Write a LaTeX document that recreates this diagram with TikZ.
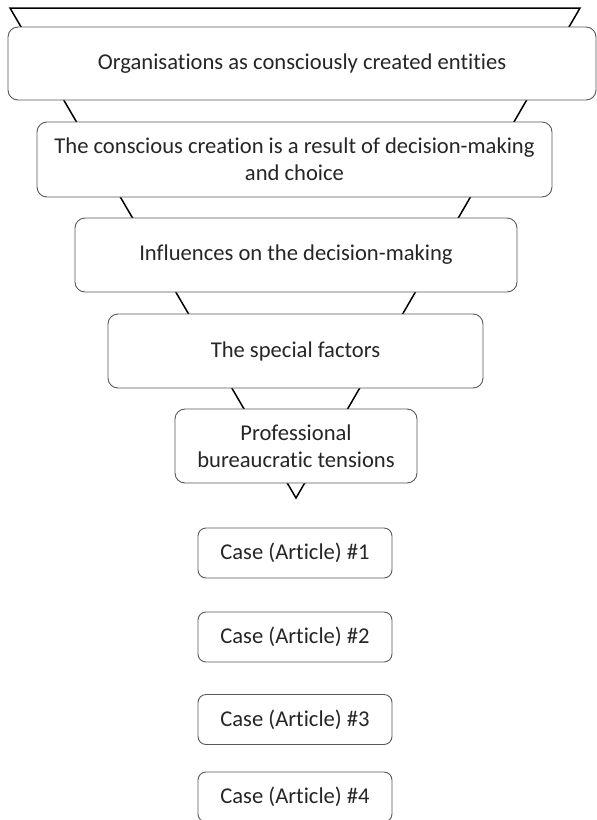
\documentclass[tikz,border=0pt]{standalone}
\usepackage{fontspec}
\setmainfont{Carlito}[Ligatures=NoCommon]
\usepackage{tikz}

\begin{document}
\begin{tikzpicture}[x=1pt, y=-1pt,
    level/.style={draw=black!65, line width=0.9pt, fill=white, rounded corners=10pt, align=center, inner sep=2pt, text=black!85, font=\fontsize{22.6}{27}\selectfont},
    casebox/.style={level, rounded corners=8pt, minimum width=194pt, minimum height=50pt}]
          \useasboundingbox (0,0) rectangle (597,820);
          \clip (0,0) rectangle (597,820);
          \coordinate (topl) at (10,8);
          \coordinate (topr) at (580,8);
          \coordinate (apex) at (296,498);
          \draw [line width=1.5pt] (topl) -- (topr) -- (apex) -- cycle;
          \node [level, minimum width=588pt, minimum height=73pt] (org) at (302,63.5) {Organisations as consciously created entities};
          \node [level, minimum width=515pt, minimum height=75pt] (creation) at (294.5,159.5) {The conscious creation is a result of decision-making\\and choice};
          \node [level, minimum width=442pt, minimum height=74pt] (influences) at (296,255) {Influences on the decision-making};
          \node [level, minimum width=375pt, minimum height=74pt] (factors) at (295.5,351) {The special factors};
          \node [level, minimum width=242pt, minimum height=74pt] (tensions) at (296,446) {Professional\\bureaucratic tensions};
          \node [casebox] (case1) at (295,553) {Case (Article) \#1};
          \node [casebox] (case2) at (295,637) {Case (Article) \#2};
          \node [casebox] (case3) at (295,719.5) {Case (Article) \#3};
          \node [casebox] (case4) at (295,797) {Case (Article) \#4};
        \end{tikzpicture}
\end{document}
